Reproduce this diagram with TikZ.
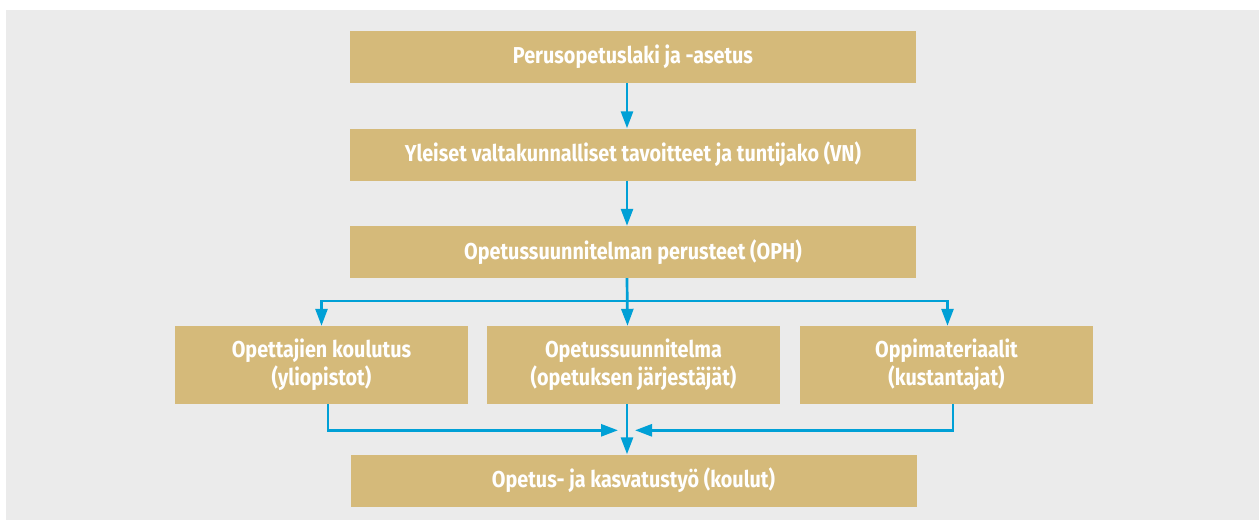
\documentclass[tikz,border=0pt]{standalone}
\usepackage{fontspec}
\setmainfont{Fira Sans}[FakeStretch=0.86]
\usetikzlibrary{arrows.meta,calc}
\definecolor{tan}{HTML}{D5BA7A}
\definecolor{flowblue}{HTML}{00A0D6}
\definecolor{bggray}{HTML}{EBEBEB}
\tikzset{
	box/.style={
			fill=tan, draw=none, text=white, align=center, inner sep=0pt,
			font=\bfseries\fontsize{23}{28}\selectfont},
	widebox/.style={box, minimum width=566pt, minimum height=52pt},
	midbox/.style={box, minimum width=293pt, minimum height=78pt},
	flow/.style={draw=flowblue, line width=2.7pt,
			-{Triangle[length=17pt,width=12pt]}}
}

\begin{document}
\begin{tikzpicture}[x=1pt,y=-1pt]
		\useasboundingbox (0,0) rectangle (1259,520);
		\fill[bggray] (6,10) rectangle (1259,520);
		% levels
		\node[widebox] (laki) at (633,57) {Perusopetuslaki ja -asetus};
		\node[widebox] (vn) at (633,154.5) {Yleiset valtakunnalliset tavoitteet ja tuntijako (VN)};
		\node[widebox] (oph) at (633,252) {Opetussuunnitelman perusteet (OPH)};
		\node[midbox] (koul) at (321.5,365) {Opettajien koulutus\\(yliopistot)};
		\node[midbox] (ops) at (633.5,365) {Opetussuunnitelma\\(opetuksen järjestäjät)};
		\node[midbox] (mat) at (946.5,365) {Oppimateriaalit\\(kustantajat)};
		\node[widebox] (tyo) at (633.5,480.5) {Opetus- ja kasvatustyö (koulut)};
		% connectors
		\coordinate (split) at ($(oph.south)+(-6,22.7)$);
		\coordinate (joinl) at ($(tyo.north)+(-15.5,-24)$);
		\coordinate (joinr) at ($(tyo.north)+(1.5,-24)$);
		\draw[flow] ([xshift=-6pt]laki.south) -- ([xshift=-6pt]vn.north);
		\draw[flow] ([xshift=-6pt]vn.south) -- ([xshift=-6pt]oph.north);
		\draw[flow] ([xshift=-6pt]oph.south) -- ([xshift=-6pt]ops.north);
		\draw[flow] (split) -| (koul.north);
		\draw[flow] (split) -| ([xshift=1pt]mat.north);
		\draw[flow] ([xshift=6.5pt]koul.south) |- (joinl);
		\draw[flow] ([xshift=6.5pt]mat.south) |- (joinr);
		\draw[flow] ([xshift=-6.5pt]ops.south) -- ([xshift=-6.5pt]tyo.north);
	\end{tikzpicture}
\end{document}
